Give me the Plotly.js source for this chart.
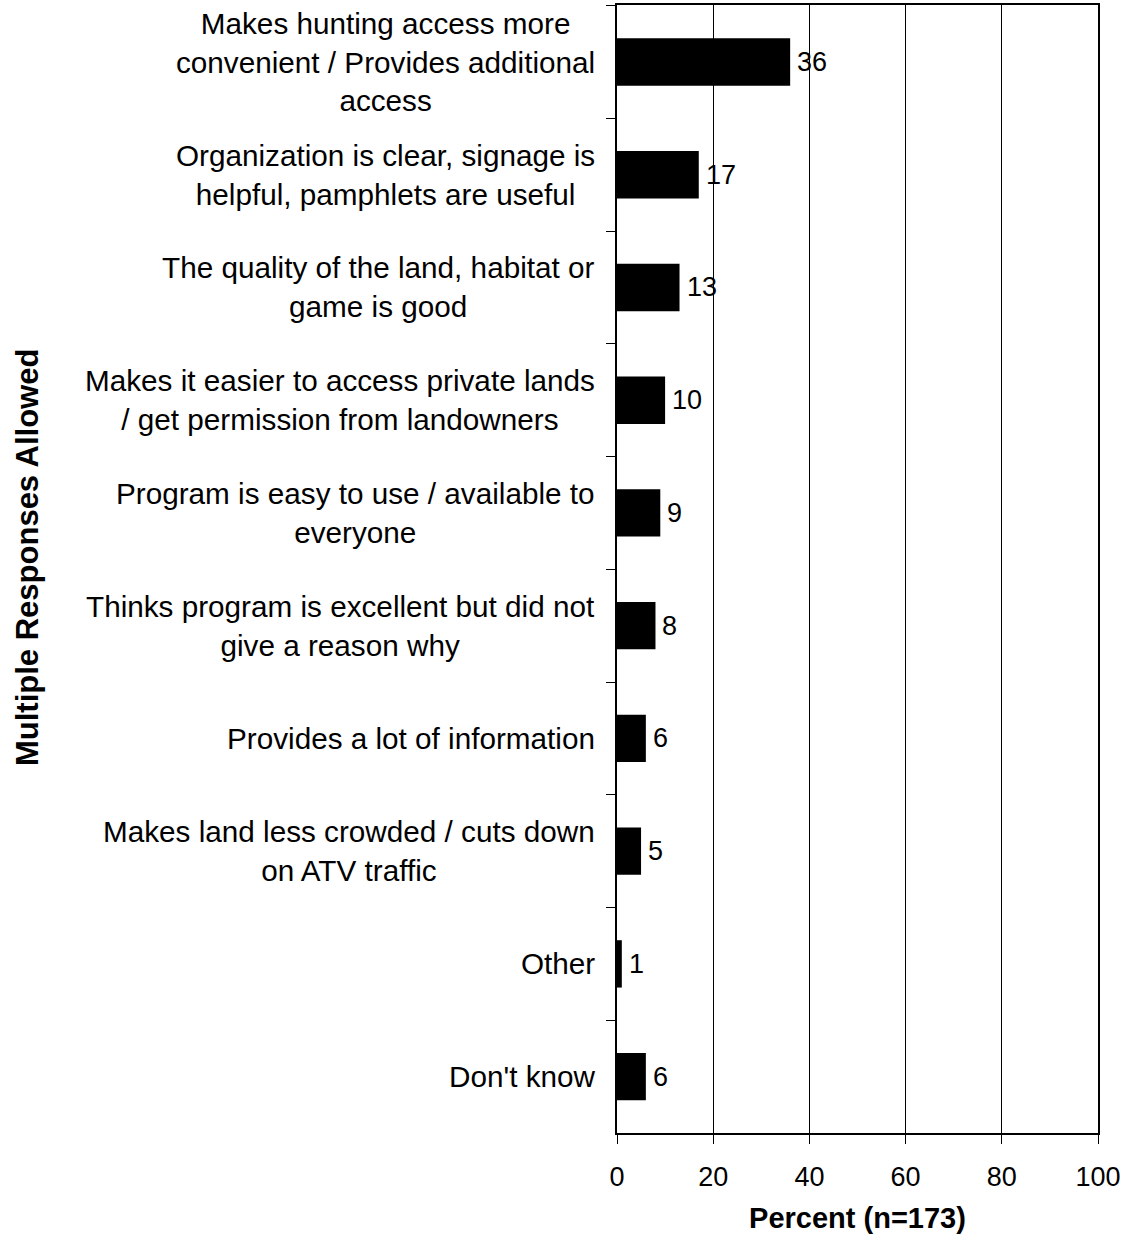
<!DOCTYPE html>
<html>
<head>
<meta charset="utf-8">
<script src="https://cdn.plot.ly/plotly-3.0.1.min.js"></script>
<style>
html,body{margin:0;padding:0;background:#fff;}
#chart{width:1129px;height:1243px;}
</style>
</head>
<body>
<div id="chart"></div>
<script>
const categories = [
  "Makes hunting access more<br>convenient / Provides additional<br>access",
  "Organization is clear, signage is<br>helpful, pamphlets are useful",
  "The quality of the land, habitat or<br>game is good",
  "Makes it easier to access private lands<br>/ get permission from landowners",
  "Program is easy to use / available to<br>everyone",
  "Thinks program is excellent but did not<br>give a reason why",
  "Provides a lot of information",
  "Makes land less crowded / cuts down<br>on ATV traffic",
  "Other",
  "Don't know"
];
const percents = [36, 17, 13, 10, 9, 8, 6, 5, 1, 6];
const xTickValues = [0, 20, 40, 60, 80, 100];
const xTitle = "Percent (n=173)";
const yTitle = "Multiple Responses Allowed";

const FONT = '"Liberation Sans", Arial, sans-serif';

const trace = {
  type: 'bar',
  orientation: 'h',
  x: percents,
  y: categories,
  width: 0.42,
  marker: {color: '#000000', line: {width: 0}},
  hoverinfo: 'none'
};

const annotations = categories.map(c => ({
  xref: 'paper', yref: 'y',
  x: 0, y: c,
  xanchor: 'right', yanchor: 'middle',
  xshift: -20,
  align: 'center',
  text: c,
  showarrow: false,
  font: {family: FONT, size: 29.7, color: '#000'}
}));
percents.forEach((v, i) => annotations.push({
  xref: 'x', yref: 'y',
  x: v, y: categories[i],
  xanchor: 'left', yanchor: 'middle',
  xshift: 5,
  text: String(v),
  showarrow: false,
  font: {family: FONT, size: 27, color: '#000'}
}));
annotations.push({
  xref: 'paper', yref: 'paper',
  x: 0, y: 0.5,
  xshift: -590,
  yshift: 11,
  xanchor: 'center', yanchor: 'middle',
  textangle: -90,
  text: yTitle,
  showarrow: false,
  font: {family: FONT, size: 31, color: '#000', weight: 'bold'}
});

const layout = {
  width: 1129, height: 1243,
  margin: {l: 617, r: 31, t: 5, b: 110},
  paper_bgcolor: '#fff',
  plot_bgcolor: '#fff',
  showlegend: false,
  font: {family: FONT, color: '#000'},
  xaxis: {
    range: [0, 100],
    tickvals: xTickValues,
    ticks: 'outside', ticklen: 9, tickwidth: 1, tickcolor: '#000',
    ticklabelstandoff: 10,
    showgrid: true, gridcolor: '#000', gridwidth: 1,
    zeroline: false,
    showline: true, linecolor: '#000', linewidth: 2, mirror: true,
    tickfont: {family: FONT, size: 27, color: '#000'},
    title: {text: xTitle, font: {family: FONT, size: 29, color: '#000', weight: 'bold'}, standoff: 16}
  },
  yaxis: {
    type: 'category',
    autorange: 'reversed',
    ticks: 'outside', tickson: 'boundaries', ticklen: 9, tickwidth: 1, tickcolor: '#000',
    showticklabels: false,
    showgrid: false, zeroline: false,
    showline: true, linecolor: '#000', linewidth: 2, mirror: true
  },
  annotations: annotations
};

Plotly.newPlot('chart', [trace], layout, {staticPlot: true, displayModeBar: false});
</script>
</body>
</html>
